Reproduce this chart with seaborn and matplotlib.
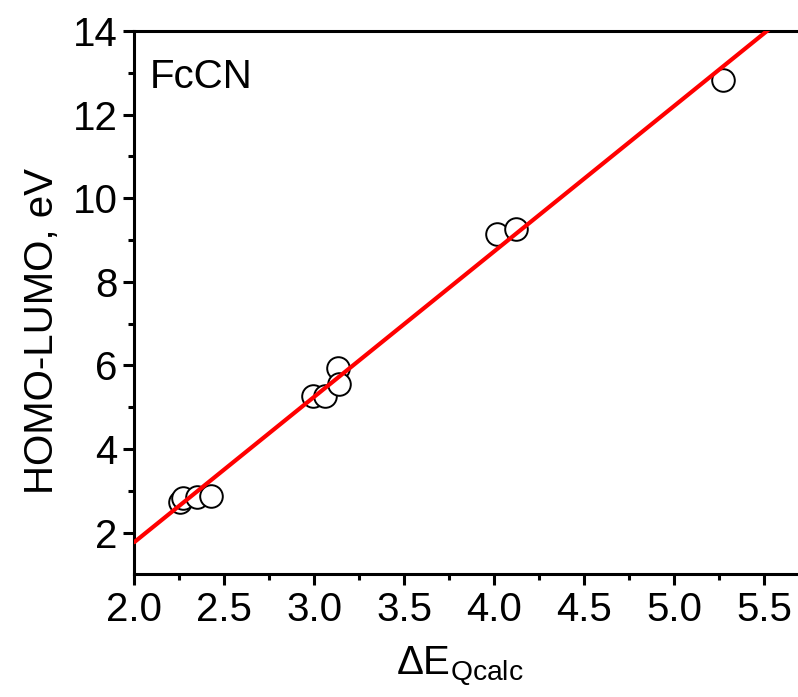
import matplotlib
matplotlib.use("Agg")
import matplotlib.pyplot as plt
import seaborn as sns
import numpy as np
import pandas as pd

# data
dE_qcalc = [2.254, 2.272, 2.347, 2.426, 2.994, 3.059, 3.133, 3.139, 4.013, 4.121, 5.272]
homo_lumo = [2.73, 2.83, 2.85, 2.87, 5.27, 5.27, 5.94, 5.55, 9.14, 9.26, 12.83]
fit_slope = 3.48
fit_intercept = -5.19
fit_x = [2.0, 5.69]
x_ticks = [2.0, 2.5, 3.0, 3.5, 4.0, 4.5, 5.0, 5.5]
y_ticks = [2, 4, 6, 8, 10, 12, 14]

sns.set_theme(style="white")
plt.rcParams['font.family'] = ['Liberation Sans', 'DejaVu Sans']
plt.rcParams['mathtext.fontset'] = 'custom'
plt.rcParams['mathtext.rm'] = 'Liberation Sans'
plt.rcParams['mathtext.it'] = 'Liberation Sans'

df = pd.DataFrame({"x": dE_qcalc, "y": homo_lumo})

fig = plt.figure(figsize=(7.98, 6.97), dpi=100)
ax = fig.add_axes([0.1683, 0.176, 1.0 - 0.1683, 0.9555 - 0.176])

sns.scatterplot(data=df, x="x", y="y", ax=ax, marker="o", s=265,
                facecolor="white", edgecolor="black", linewidth=1.4, zorder=3)
fx = np.array(fit_x)
sns.lineplot(x=fx, y=fit_slope * fx + fit_intercept, ax=ax, color="#ff0000",
             linewidth=3.0, zorder=4)

ax.set_xlim(2.0, 5.687)
ax.set_ylim(1, 14)
ax.set_xticks(x_ticks)
ax.set_xticklabels([f"{v:.1f}" for v in x_ticks])
ax.set_yticks(y_ticks)
ax.set_xticks([2.25, 2.75, 3.25, 3.75, 4.25, 4.75, 5.25], minor=True)
ax.set_yticks([3, 5, 7, 9, 11, 13], minor=True)

FS = 29
ax.tick_params(axis="both", which="major", direction="out", length=8, width=2.2,
               labelsize=FS, color="black", labelcolor="black", pad=4,
               bottom=True, left=True)
ax.tick_params(axis="both", which="minor", direction="out", length=4, width=2.2,
               color="black", bottom=True, left=True)

for side in ["left", "bottom", "top"]:
    ax.spines[side].set_visible(True)
    ax.spines[side].set_linewidth(2.2)
    ax.spines[side].set_color("black")
ax.spines["right"].set_visible(False)

ax.set_xlabel(r"$\Delta$E$_{\mathrm{Qcalc}}$", fontsize=FS, color="black")
ax.set_ylabel("HOMO-LUMO, eV", fontsize=FS, color="black")
ax.yaxis.set_label_coords(-0.11, 0.447)
ax.xaxis.set_label_coords(0.49, -0.128)

ax.text(0.024, 0.895, "FcCN", transform=ax.transAxes, fontsize=FS,
        ha="left", va="baseline", color="black")

ax.grid(False)
fig.savefig("out.png", dpi=100)
